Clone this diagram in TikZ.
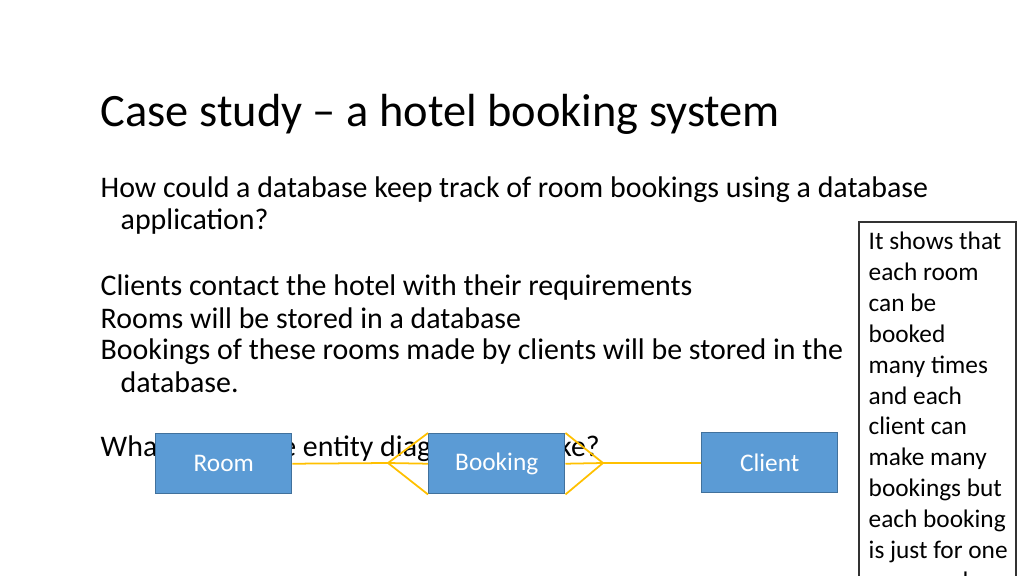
\documentclass[tikz,border=0pt]{standalone}
\usepackage{fontspec}
\setmainfont{Carlito}
\definecolor{boxblue}{HTML}{5B9BD5}
\definecolor{boxline}{HTML}{41719C}
\definecolor{relline}{HTML}{FFC000}
\tikzset{
    entity/.style={draw=boxline, fill=boxblue, text=white, minimum width=1.36cm, minimum height=0.6cm, font=\fontsize{7.2}{8}\selectfont, anchor=north west},
    bodyline/.style={anchor=base west, inner sep=0pt, font=\fontsize{8.5}{10}\selectfont},
    relation/.style={draw=relline, line width=0.5pt}
}
\begin{document}
\begin{tikzpicture}[x=0.01cm, y=-0.01cm]
\useasboundingbox (0,0) rectangle (1024,576);
\clip (0,0) rectangle (1024,576);
% title and text
\node[bodyline, font=\fontsize{13.2}{15}\selectfont] (title) at (100,127) {Case study -- a hotel booking system};
\node[bodyline] (q1) at (100,198) {How could a database keep track of room bookings using a database};
\node[bodyline] (q2) at (120,230) {application?};
\node[bodyline] (l1) at (100,296) {Clients contact the hotel with their requirements};
\node[bodyline] (l2) at (100,328) {Rooms will be stored in a database};
\node[bodyline] (l3) at (100,360) {Bookings of these rooms made by clients will be stored in the};
\node[bodyline] (l4) at (120,392) {database.};
\node[bodyline] (l5) at (100,456) {What would the entity diagram look like?};
% side note
\draw[black!80, line width=0.8pt] (859,222) rectangle (1016,600);
\node[anchor=north west, inner sep=0pt, align=left, font=\fontsize{7.2}{8.8}\selectfont] (note) at (868,231)
  {It shows that\\each room\\can be\\booked\\many times\\and each\\client can\\make many\\bookings but\\each booking\\is just for one\\room and};
% entities
\node[entity] (room) at (155,433) {Room};
\node[entity] (booking) at (428,433) {Booking};
\node[entity] (client) at (701,432) {Client};
% relations
\coordinate (fork1) at (388,463);
\coordinate (fork2) at (603,463);
\draw[relation] (room.east) -- (fork1);
\draw[relation] (booking.north west) -- (fork1) -- (booking.south west);
\draw[relation] (fork1) -- (booking.west);
\draw[relation] (booking.north east) -- (fork2) -- (booking.south east);
\draw[relation] (booking.east) -- (fork2) -- (client.west |- fork2);
\end{tikzpicture}
\end{document}
